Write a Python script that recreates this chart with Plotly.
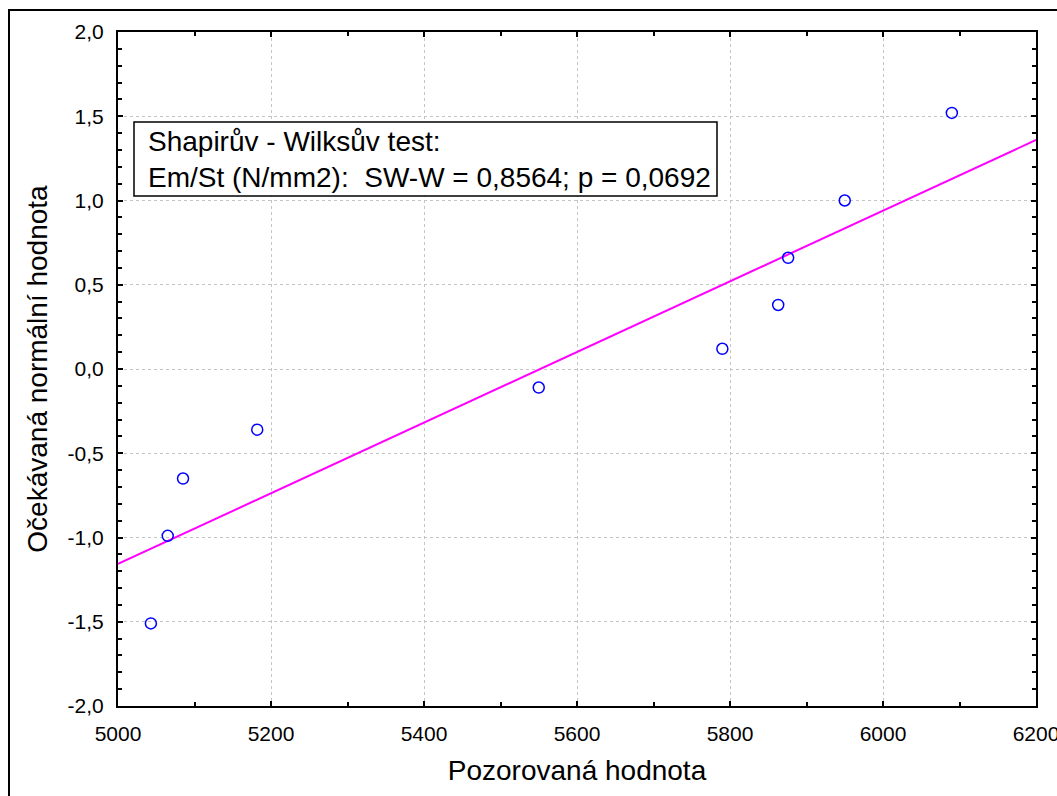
import plotly.graph_objects as go

# Observed values (N/mm2) and their expected normal scores
observed = [5043, 5065, 5085, 5182, 5550, 5790, 5863, 5876, 5950, 6090]
expected = [-1.51, -0.99, -0.65, -0.36, -0.11, 0.12, 0.38, 0.66, 1.00, 1.52]

# Reference normal line endpoints
line_x = [5000, 6200]
line_y = [-1.157, 1.359]

x_tickvals = [5000, 5200, 5400, 5600, 5800, 6000, 6200]
x_ticktext = ["5000", "5200", "5400", "5600", "5800", "6000", "6200"]
y_tickvals = [-2.0, -1.5, -1.0, -0.5, 0.0, 0.5, 1.0, 1.5, 2.0]
y_ticktext = ["-2,0", "-1,5", "-1,0", "-0,5", "0,0", "0,5", "1,0", "1,5", "2,0"]

FONT = "Liberation Sans, Arial, sans-serif"
W, H = 1057, 796
ML, MR, MT, MB = 118, 21, 32, 90
pw, ph = W - ML - MR, H - MT - MB

fig = go.Figure()
fig.add_trace(go.Scatter(
    x=line_x, y=line_y, mode="lines",
    line=dict(color="#ff00ff", width=2), hoverinfo="skip", showlegend=False))
fig.add_trace(go.Scatter(
    x=observed, y=expected, mode="markers",
    marker=dict(symbol="circle-open", size=11, color="#0000ff", line=dict(width=1.5)),
    showlegend=False))

axis_common = dict(
    showline=True, linecolor="black", linewidth=2, mirror="ticks",
    ticks="inside", ticklen=5, tickwidth=2, tickcolor="black",
    showgrid=True, gridcolor="#c4c4c4", griddash="dot", gridwidth=1,
    zeroline=False, ticklabeloverflow="allow", automargin=False,
    tickfont=dict(family=FONT, size=21, color="black"),
)

fig.update_xaxes(
    range=[5000, 6200], tickvals=x_tickvals, ticktext=x_ticktext,
    minor=dict(ticks="inside", dtick=100, tick0=5000, ticklen=4, tickwidth=2,
               tickcolor="black", showgrid=False),
    title=dict(text="Pozorovaná hodnota", standoff=16,
               font=dict(family=FONT, size=28, color="black")),
    ticklabelstandoff=8,
    **axis_common)
fig.update_yaxes(
    range=[-2.0, 2.0], tickvals=y_tickvals, ticktext=y_ticktext,
    minor=dict(ticks="inside", dtick=0.1, tick0=0, ticklen=4, tickwidth=2,
               tickcolor="black", showgrid=False),
    title=dict(text="Očekávaná normální hodnota", standoff=12,
               font=dict(family=FONT, size=28, color="black")),
    ticklabelstandoff=8,
    **axis_common)

# Outer frame around the whole graph
fig.add_shape(type="rect", xref="paper", yref="paper",
              x0=(9 - ML) / pw, x1=(1070 - ML) / pw,
              y0=(H - MB - 810) / ph, y1=(H - MB - 10) / ph,
              line=dict(color="black", width=2), fillcolor="rgba(0,0,0,0)", layer="below")

# Test result box
fig.add_shape(type="rect", xref="paper", yref="paper",
              x0=(134 - ML) / pw, x1=(717 - ML) / pw,
              y0=(H - MB - 196) / ph, y1=(H - MB - 122) / ph,
              line=dict(color="black", width=1.5), fillcolor="white")
fig.add_annotation(
    xref="paper", yref="paper", x=(146 - ML) / pw, y=(H - MB - 159) / ph,
    xanchor="left", yanchor="middle", align="left", showarrow=False,
    text="Shapirův - Wilksův test:<br>Em/St (N/mm2):  SW-W = 0,8564; p = 0,0692",
    font=dict(family=FONT, size=28, color="black"))

fig.update_layout(
    width=W, height=H,
    margin=dict(l=ML, r=MR, t=MT, b=MB, autoexpand=False),
    paper_bgcolor="white", plot_bgcolor="white",
    font=dict(family=FONT, color="black"),
)

fig.write_html("out.html")
